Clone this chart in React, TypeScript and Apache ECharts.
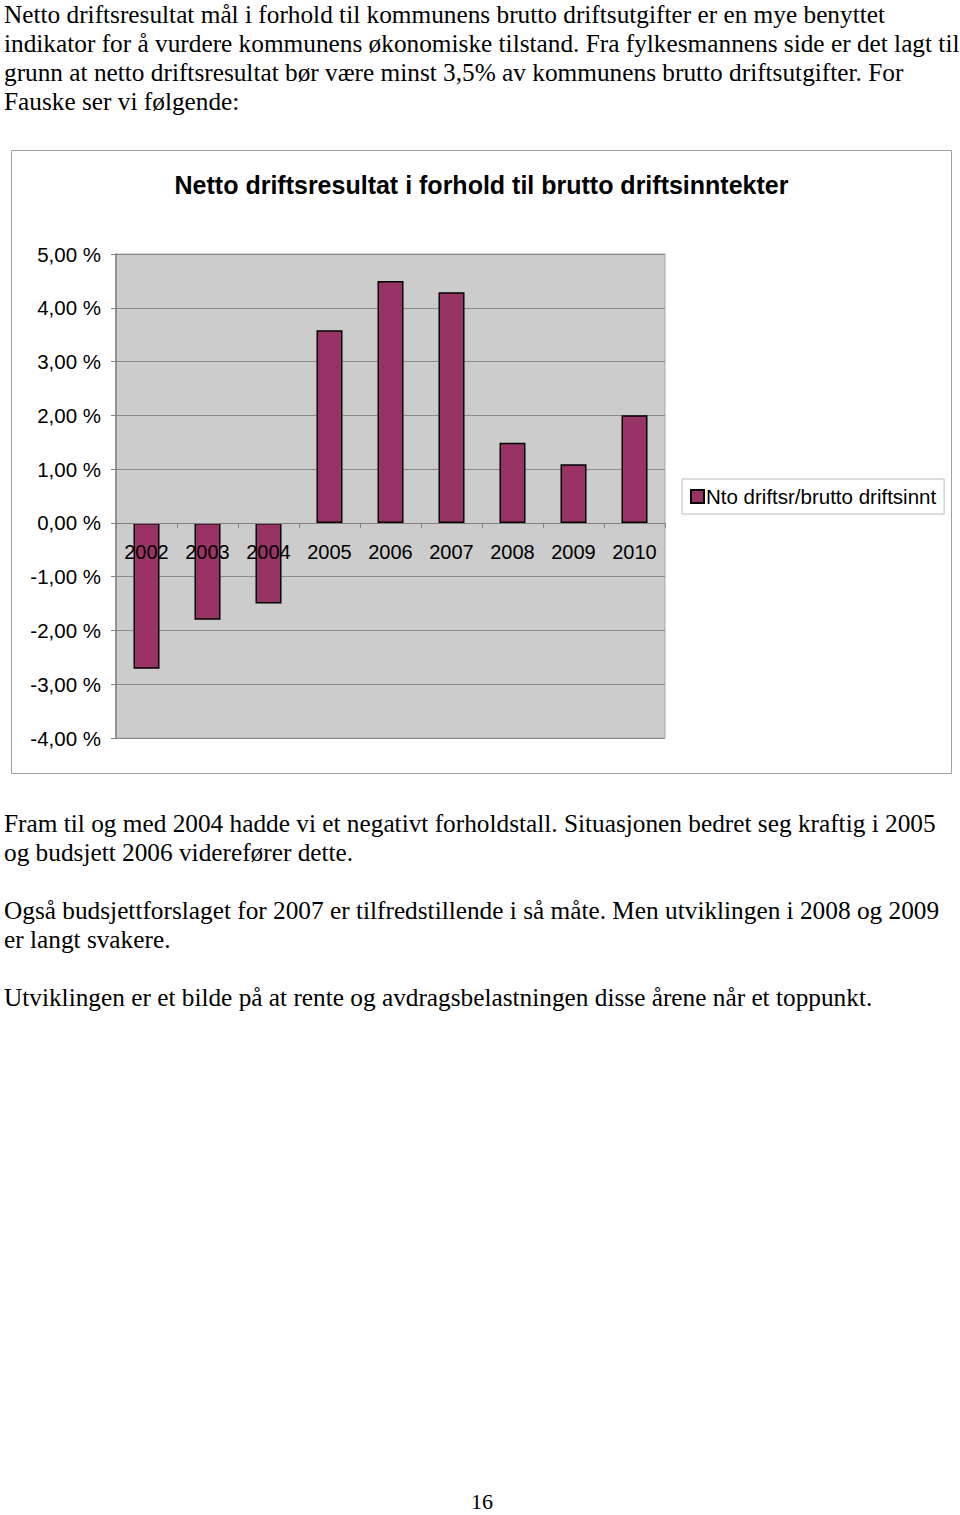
import React, { useEffect, useRef } from "react";
import * as echarts from "echarts";

const years = ["2002", "2003", "2004", "2005", "2006", "2007", "2008", "2009", "2010"];
const ratioValues = [-2.71, -1.8, -1.5, 3.58, 4.5, 4.29, 1.49, 1.09, 2.0];
const seriesName = "Nto driftsr/brutto driftsinnt";
const chartTitle = "Netto driftsresultat i forhold til brutto driftsinntekter";
const yMin = -4;
const yMax = 5;

const introLines = [
  "Netto driftsresultat mål i forhold til kommunens brutto driftsutgifter er en mye benyttet",
  "indikator for å vurdere kommunens økonomiske tilstand. Fra fylkesmannens side er det lagt til",
  "grunn at netto driftsresultat bør være minst 3,5% av kommunens brutto driftsutgifter. For",
  "Fauske ser vi følgende:",
];
const afterLines = [
  "Fram til og med 2004 hadde vi et negativt forholdstall. Situasjonen bedret seg kraftig i 2005",
  "og budsjett 2006 viderefører dette.",
  "",
  "Også budsjettforslaget for 2007 er tilfredstillende i så måte. Men utviklingen i 2008 og 2009",
  "er langt svakere.",
  "",
  "Utviklingen er et bilde på at rente og avdragsbelastningen disse årene når et toppunkt.",
];
const pageNumber = "16";

const FONT = "'Liberation Sans', Arial, sans-serif";
const GRID_H = 484;

function Chart() {
  const ref = useRef<HTMLDivElement>(null);
  useEffect(() => {
    if (!ref.current) return;
    const chart = echarts.init(ref.current, null, { renderer: "svg" });
    // move the category axis up from the grid's bottom to the zero line
    const zeroOffset = -GRID_H * (0 - yMin) / (yMax - yMin);
    chart.setOption({
      animation: false,
      textStyle: { fontFamily: FONT },
      graphic: [
        {
          type: "rect",
          left: 0,
          top: 0,
          shape: { width: 940, height: 623 },
          style: { fill: "#ffffff", stroke: "#a0a0a0", lineWidth: 1 },
          z: -10,
          silent: true,
        },
      ],
      title: {
        text: chartTitle,
        left: "center",
        top: 17,
        textStyle: { fontFamily: FONT, fontSize: 25, fontWeight: "bold", color: "#000" },
      },
      legend: {
        left: 671,
        top: 329,
        padding: [7, 8, 7, 8],
        borderColor: "#bdbdbd",
        borderWidth: 1,
        icon: "rect",
        itemWidth: 13,
        itemHeight: 13,
        itemGap: 4,
        textStyle: { fontFamily: FONT, fontSize: 20.5, color: "#000", padding: [0, 0, 0, -3] },
        data: [seriesName],
      },
      grid: {
        left: 105,
        top: 104,
        width: 549,
        height: GRID_H,
        show: true,
        backgroundColor: "#cccccc",
        borderColor: "#a8a8a8",
        borderWidth: 1,
      },
      xAxis: {
        type: "category",
        data: years,
        position: "bottom",
        offset: zeroOffset,
        axisLine: { onZero: false, lineStyle: { color: "#808080", width: 1 } },
        axisTick: { show: true, length: 5, inside: false, lineStyle: { color: "#808080" } },
        axisLabel: { fontFamily: FONT, fontSize: 20, color: "#000", margin: 19 },
        splitLine: { show: false },
        z: 5,
      },
      yAxis: {
        type: "value",
        min: yMin,
        max: yMax,
        interval: 1,
        axisLine: { show: true, lineStyle: { color: "#808080", width: 1.5 } },
        axisTick: { show: true, length: 5, lineStyle: { color: "#808080" } },
        axisLabel: {
          fontFamily: FONT,
          fontSize: 20.5,
          color: "#000",
          margin: 15,
          formatter: (v: number) => v.toFixed(2).replace(".", ",") + " %",
        },
        splitLine: { show: true, lineStyle: { color: "#8c8c8c", width: 1 } },
      },
      series: [
        {
          name: seriesName,
          type: "bar",
          data: ratioValues,
          barWidth: 26,
          z: 2,
          itemStyle: { color: "#993366", borderColor: "#000000", borderWidth: 1.5 },
        },
      ],
    });
    return () => chart.dispose();
  }, []);
  return (
    <div
      ref={ref}
      style={{ position: "absolute", left: 11, top: 150, width: 941, height: 624 }}
    />
  );
}

const textStyle: React.CSSProperties = {
  position: "absolute",
  left: 4,
  fontFamily: "'Liberation Serif', 'Times New Roman', serif",
  fontSize: 25.3,
  lineHeight: "29px",
  color: "#000",
  whiteSpace: "pre",
  margin: 0,
};

export default function App() {
  return (
    <div style={{ position: "absolute", left: 0, top: 0, width: 960, height: 1515, background: "#fff", overflow: "hidden" }}>
      <div style={{ ...textStyle, top: 0 }}>
        {introLines.map((l, i) => (
          <div key={i} style={{ height: 29 }}>{l}</div>
        ))}
      </div>
      <Chart />
      <div style={{ ...textStyle, top: 809 }}>
        {afterLines.map((l, i) => (
          <div key={i} style={{ height: 29 }}>{l}</div>
        ))}
      </div>
      <div style={{ ...textStyle, left: 0, width: 964, textAlign: "center", top: 1490, lineHeight: "24px", fontSize: 22 }}>{pageNumber}</div>
    </div>
  );
}
